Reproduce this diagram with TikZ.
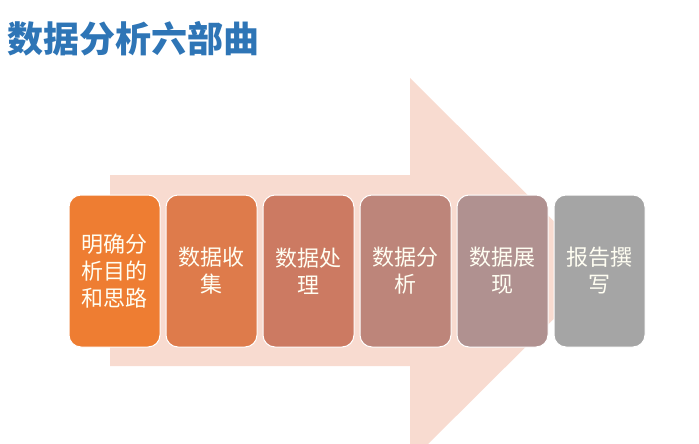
\documentclass[tikz,border=0pt]{standalone}
\usepackage{fontspec}
\setmainfont{Noto Sans CJK SC}
\usepackage{xcolor}
\usepackage{tikz}
\definecolor{titleblue}{HTML}{2E75B6}
\definecolor{arrowpeach}{HTML}{F8DBD0}
\definecolor{stepA}{HTML}{EE7D32}
\definecolor{stepB}{HTML}{DE7B4B}
\definecolor{stepC}{HTML}{CC7A62}
\definecolor{stepD}{HTML}{BD857A}
\definecolor{stepE}{HTML}{B09190}
\definecolor{stepF}{HTML}{A5A5A5}
\tikzstyle{title} = [anchor=west, inner sep=0pt, text=titleblue, font=\fontsize{36}{40}\selectfont\bfseries]
\tikzstyle{stage} = [rectangle, rounded corners=12pt, minimum width=91pt, minimum height=152pt, text centered, draw=white, line width=1pt, text=white!95!yellow, font=\fontsize{22}{27}\selectfont]
\tikzstyle{bigarrow} = [fill=arrowpeach, draw=none]

\begin{document}
\begin{tikzpicture}[x=1pt, y=-1pt, node distance=97pt, align=center]

    \clip (0,0) rectangle (699,444);

    % Title
    \node (tt) [title] at (7,39) {数据分析六部曲};

    % Arrow
    \fill [bigarrow] (110,175) -- (410,175) -- (410,78) -- (603,270)
        -- (410,462) -- (410,366) -- (110,366) -- cycle;

    % Nodes
    \node (ms) [stage, fill=stepA] at (114.5,271) {明确分\\析目的\\和思路};
    \node (sj) [stage, fill=stepB, right of=ms] {数据收\\集};
    \node (cl) [stage, fill=stepC, right of=sj] {数据处\\理};
    \node (fx) [stage, fill=stepD, right of=cl] {数据分\\析};
    \node (zx) [stage, fill=stepE, right of=fx] {数据展\\现};
    \node (bg) [stage, fill=stepF, right of=zx] {报告撰\\写};

\end{tikzpicture}
\end{document}
